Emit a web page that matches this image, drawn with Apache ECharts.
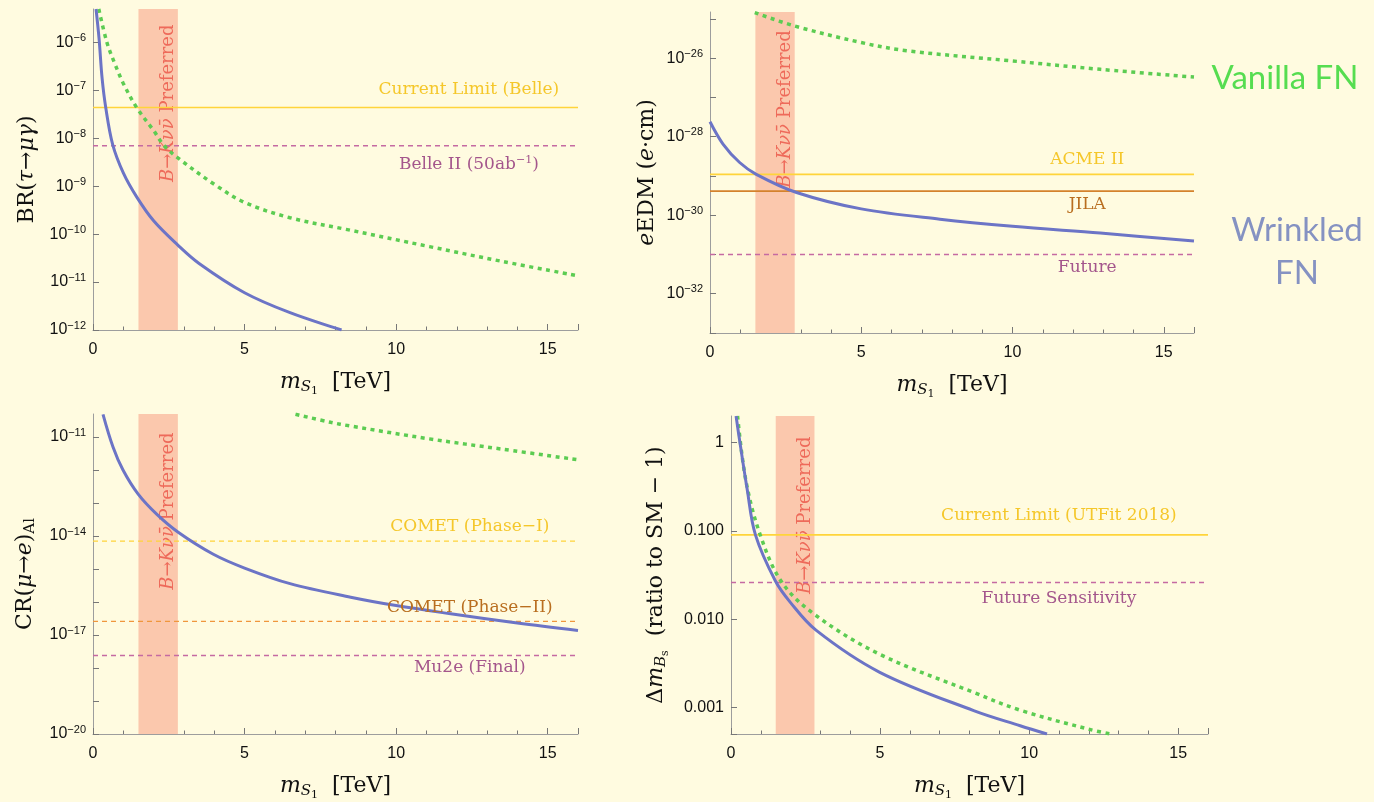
<!DOCTYPE html>
<html>
<head>
<meta charset="utf-8">
<title>S1 leptoquark constraints</title>
<script src="https://cdn.jsdelivr.net/npm/echarts@6/dist/echarts.min.js"></script>
<style>
html, body { margin: 0; padding: 0; background: #fffbe0; }
#main { width: 1374px; height: 802px; }
</style>
</head>
<body>
<div id="main"></div>
<script>
// ---- data ----
var bandRange = [1.5, 2.8];
var massRange = [0, 16];

// BR(tau -> mu gamma)
var tauMassW = [0.1, 0.2, 0.3, 0.42, 0.65, 1.0, 1.44, 2.0, 2.79, 3.5, 5.0, 6.5, 8.2];
var tauWrinkled = [5e-6, 1.2e-6, 1.8e-7, 4.4e-8, 7.4e-9, 1.9e-9, 6e-10, 1.9e-10, 6e-11, 2.45e-11, 6e-12, 2.3e-12, 1e-12];
var tauMassV = [0.19, 0.46, 0.72, 1.0, 1.44, 2.0, 2.35, 2.8, 4.0, 5.0, 6.5, 8.35, 11.1, 13.5, 16];
var tauVanilla = [5e-6, 1e-6, 3.6e-7, 1.4e-7, 4.4e-8, 1.45e-8, 7e-9, 3.9e-9, 1.1e-9, 4.6e-10, 2.2e-10, 1.26e-10, 5.5e-11, 2.7e-11, 1.35e-11];
var tauLimits = [4.4e-8, 7e-9];

// electron EDM, e*cm
var edmMassW = [0, 0.43, 0.98, 1.53, 2.86, 5, 7.6, 10, 12.9, 16];
var edmWrinkled = [2.4e-28, 6.5e-29, 2.2e-29, 1.1e-29, 3.8e-30, 1.45e-30, 7.9e-31, 5.2e-31, 3.5e-31, 2.2e-31];
var edmMassV = [1.48, 2.8, 5, 6.5, 10, 12.9, 16];
var edmVanilla = [1.45e-25, 6.6e-26, 2.5e-26, 1.55e-26, 8.5e-27, 5.2e-27, 3.3e-27];
var edmLimits = [1.1e-29, 4.1e-30, 1e-31];

// CR(mu -> e) in Al
var crMassW = [0.33, 0.66, 0.99, 1.49, 2.1, 2.81, 3.97, 5, 6.5, 8.5, 10, 11.8, 14, 16];
var crWrinkled = [4.9e-11, 5e-12, 1e-12, 1.86e-13, 4.6e-14, 1.3e-14, 2.8e-15, 1.07e-15, 3.6e-16, 1.4e-16, 7.8e-17, 4.4e-17, 2.3e-17, 1.38e-17];
var crMassV = [6.68, 7.84, 8.47, 11.1, 13.5, 16];
var crVanilla = [4.9e-11, 2.8e-11, 2.18e-11, 8.8e-12, 4.3e-12, 2.05e-12];
var crLimits = [7e-15, 2.6e-17, 2.4e-18];

// Delta m_Bs
var bsMassW = [0.17, 0.3, 0.54, 0.82, 1.49, 1.99, 2.85, 4.99, 8.14, 9.7, 10.6];
var bsWrinkled = [2.0, 1.0, 0.3, 0.09, 0.027, 0.0155, 0.0075, 0.0025, 0.00092, 0.00062, 0.0005];
var bsMassV = [0.22, 0.5, 0.98, 1.71, 2.85, 4.99, 8.14, 9.7, 12.06, 12.75];
var bsVanilla = [2.0, 0.37, 0.09, 0.026, 0.011, 0.004, 0.00148, 0.00093, 0.00056, 0.0005];
var bsLimits = [0.09, 0.026];

// ECharts rounds log extents to 20 decimals, so each panel is drawn in its own unit
var units = [1, 1e-30, 1, 1];

// ---- styles ----
var serif = '"DejaVu Serif", "Liberation Serif", serif';
var sans = '"Liberation Sans", Arial, sans-serif';
var blue = '#6c74c6', green = '#5ccc52', bandColor = '#fbc8ad', bandText = '#ee6a5a';
var yellowLine = '#ffd43a', yellowText = '#f5c72a';
var purpleLine = '#c56aa2', purpleText = '#a4568c';
var orangeLine = '#d4822c', orangeText = '#b96e1f', orangeDash = '#f0963c';
var bandLabel = '{it|B}→{it|K}{it|νν\u0304} Preferred';

function pairs(xs, ys, unit) {
    return xs.map(function (x, i) { return [x, ys[i] / unit]; });
}

function powLabel(step, base, unit) {
    var shift = Math.round(Math.log10(unit));
    return function (v) {
        var e = Math.log10(v), n = Math.round(e);
        if (Math.abs(e - n) > 1e-6) return '';
        n += shift;
        if ((n - base) % step !== 0) return '';
        return '{b|10}{s|−' + Math.abs(n) + '}';
    };
}
function decLabel(v) {
    var e = Math.log10(v), n = Math.round(e);
    if (Math.abs(e - n) > 1e-6) return '';
    return n === 0 ? '1' : v.toFixed(3);
}

var nameRich = {
    r: { fontFamily: serif, fontSize: 22, color: '#111' },
    i: { fontFamily: serif, fontSize: 22, fontStyle: 'italic', color: '#111' },
    sub: { fontFamily: serif, fontSize: 15, fontStyle: 'italic', color: '#111', padding: [10, 0, 0, 0] },
    sub2: { fontFamily: serif, fontSize: 11, color: '#111', padding: [18, 0, 0, 0] },
    subr: { fontFamily: serif, fontSize: 15, color: '#111', padding: [10, 0, 0, 0] }
};
var xName = '{i|m}{sub|S}{sub2|1}{r|  [TeV]}';

var grids = [
    { left: 93, top: 9, width: 485, height: 321 },
    { left: 710, top: 12, width: 484, height: 321 },
    { left: 93, top: 414, width: 485, height: 321 },
    { left: 731, top: 416, width: 477, height: 318 }
];

function xAxisFor(i) {
    return {
        type: 'value', gridIndex: i, min: massRange[0], max: massRange[1], interval: 5,
        axisLine: { lineStyle: { color: '#9d9d9d' } },
        axisTick: { inside: true, length: 6, lineStyle: { color: '#777' } },
        minorTick: { show: true, splitNumber: 5, length: 3.5, lineStyle: { color: '#777' } },
        splitLine: { show: false },
        axisLabel: { color: '#111', fontSize: 16, fontFamily: sans, margin: 12, showMaxLabel: false },
        name: xName, nameLocation: 'middle', nameGap: 38,
        nameTextStyle: { rich: nameRich }
    };
}

function yAxisFor(i, min, max, fmt, name, gap) {
    return {
        type: 'log', logBase: 10, gridIndex: i, min: min / units[i], max: max / units[i],
        axisLine: { show: true, lineStyle: { color: '#9d9d9d' } },
        axisTick: { show: true, inside: true, length: 6, lineStyle: { color: '#777' } },
        splitLine: { show: false },
        axisLabel: {
            formatter: fmt, margin: 7, showMaxLabel: false,
            rich: {
                b: { fontFamily: sans, fontSize: 16, color: '#111' },
                s: { fontFamily: sans, fontSize: 11, color: '#111', padding: [0, 0, 9, 0] }
            },
            fontFamily: sans, fontSize: 16, color: '#111'
        },
        name: name, nameLocation: 'middle', nameGap: gap,
        nameTextStyle: { rich: nameRich }
    };
}

function curve(i, xs, ys, color, dashed) {
    return {
        type: 'line', xAxisIndex: i, yAxisIndex: i, data: pairs(xs, ys, units[i]),
        showSymbol: false, symbol: 'none', smooth: 0.35,
        silent: true, z: 4,
        lineStyle: dashed ? { color: color, width: 3.5, type: [4, 4.5] } : { color: color, width: 3 }
    };
}

function band(i, labelY) {
    return {
        type: 'line', xAxisIndex: i, yAxisIndex: i, data: [], silent: true, z: 1,
        markArea: {
            silent: true, z: 1,
            itemStyle: { color: bandColor },
            data: [[{ xAxis: bandRange[0] }, { xAxis: bandRange[1] }]]
        },
        markPoint: {
            silent: true, symbol: 'circle', symbolSize: 0, z: 2,
            label: {
                show: true, position: 'inside', rotate: 90,
                formatter: bandLabel, color: bandText, fontFamily: serif, fontSize: 18,
                rich: { it: { fontFamily: serif, fontSize: 18, fontStyle: 'italic', color: bandText } }
            },
            data: [{ coord: [2.48, labelY / units[i]] }]
        }
    };
}

// one reference line across the panel, with its caption
function limit(i, value, color, dash, text, textColor, labelX, dy) {
    var v = value / units[i];
    return {
        type: 'line', xAxisIndex: i, yAxisIndex: i, silent: true, z: 3,
        data: [[massRange[0], v], [massRange[1], v]],
        showSymbol: false, symbol: 'none',
        lineStyle: { color: color, width: dash ? 1.4 : 1.6, type: dash ? [5, 4] : 'solid' },
        markPoint: {
            silent: true, symbol: 'circle', symbolSize: 0,
            label: {
                show: true, position: 'inside', offset: [0, dy],
                formatter: text, color: textColor, fontFamily: serif, fontSize: 17,
                rich: { sp: { fontFamily: serif, fontSize: 11, color: textColor, padding: [0, 0, 9, 0] } }
            },
            data: [{ coord: [labelX, v] }]
        }
    };
}

var option = {
    backgroundColor: '#fffbe0',
    animation: false,
    grid: grids,
    xAxis: [xAxisFor(0), xAxisFor(1), xAxisFor(2), xAxisFor(3)],
    yAxis: [
        yAxisFor(0, 1e-12, 5e-6, powLabel(1, -12, units[0]), '{r|BR(}{i|τ}{r|→}{i|μγ}{r|)}', 55),
        yAxisFor(1, 1e-33, 1.5e-25, powLabel(2, -26, units[1]), '{i|e}{r|EDM (}{i|e}{r|·cm)}', 52),
        yAxisFor(2, 1e-20, 5e-11, powLabel(3, -11, units[2]), '{r|CR(}{i|μ}{r|→}{i|e}{r|)}{subr|Al}', 55),
        yAxisFor(3, 5e-4, 2, decLabel, '{r|Δ}{i|m}{sub|B}{sub2|s}{r|  (ratio to SM − 1)}', 60)
    ],
    series: [
        band(0, 5.4e-8),
        band(1, 5.1e-28),
        band(2, 5.7e-14),
        band(3, 0.15),

        limit(0, tauLimits[0], yellowLine, false, 'Current Limit (Belle)', yellowText, 12.4, -18),
        limit(0, tauLimits[1], purpleLine, true, 'Belle II (50ab{sp|−1})', purpleText, 12.4, 19),

        limit(1, edmLimits[0], yellowLine, false, 'ACME II', yellowText, 12.47, -14.5),
        limit(1, edmLimits[1], orangeLine, false, 'JILA', orangeText, 12.47, 13),
        limit(1, edmLimits[2], purpleLine, true, 'Future', purpleText, 12.47, 13),

        limit(2, crLimits[0], yellowLine, true, 'COMET (Phase−I)', yellowText, 12.43, -14.6),
        limit(2, crLimits[1], orangeDash, true, 'COMET (Phase−II)', orangeText, 12.43, -13.7),
        limit(2, crLimits[2], purpleLine, true, 'Mu2e (Final)', purpleText, 12.43, 12.3),

        limit(3, bsLimits[0], yellowLine, false, 'Current Limit (UTFit 2018)', yellowText, 11.0, -19.7),
        limit(3, bsLimits[1], purpleLine, true, 'Future Sensitivity', purpleText, 11.0, 16.3),

        curve(0, tauMassV, tauVanilla, green, true),
        curve(0, tauMassW, tauWrinkled, blue, false),
        curve(1, edmMassV, edmVanilla, green, true),
        curve(1, edmMassW, edmWrinkled, blue, false),
        curve(2, crMassV, crVanilla, green, true),
        curve(2, crMassW, crWrinkled, blue, false),
        curve(3, bsMassV, bsVanilla, green, true),
        curve(3, bsMassW, bsWrinkled, blue, false)
    ],
    graphic: [
        { type: 'text', silent: true, style: { x: 1285, y: 78, text: 'Vanilla FN', textAlign: 'center', textVerticalAlign: 'middle', fill: '#56dd50', font: '33px Lato, "Open Sans", sans-serif' } },
        { type: 'text', silent: true, style: { x: 1297, y: 252, text: 'Wrinkled\nFN', textAlign: 'center', textVerticalAlign: 'middle', lineHeight: 43, fill: '#8592c2', font: '33px Lato, "Open Sans", sans-serif' } }
    ]
};

var chart = echarts.init(document.getElementById('main'));
chart.setOption(option);
</script>
</body>
</html>
